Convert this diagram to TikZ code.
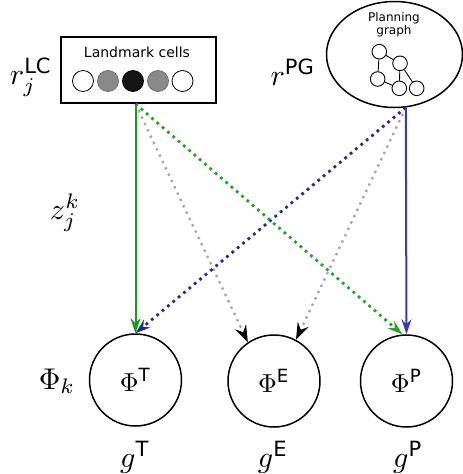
\documentclass[tikz,border=0pt]{standalone}
\usepackage{fontspec}
\usepackage{graphicx}
\setsansfont{DejaVu Sans}
\setmathsf{DejaVu Sans}
\usetikzlibrary{arrows.meta,shapes.geometric}
\definecolor{grn}{HTML}{1E9B1E}
\definecolor{grndot}{HTML}{2DA02D}
\definecolor{blu}{HTML}{3A3AAE}
\definecolor{bludot}{HTML}{2C2C88}
\definecolor{gry}{HTML}{A8A8A8}
\definecolor{cellgray}{HTML}{8A8A8A}
\definecolor{cellblack}{HTML}{151515}
\begin{document}
\begin{tikzpicture}[x=1pt,y=-1pt,
  lab/.style={inner sep=0pt,scale=3},
  cell/.style={circle,draw=black,line width=0.8pt,minimum size=21pt,inner sep=0pt},
  gnode/.style={circle,draw=black,line width=0.9pt,minimum size=14.6pt,inner sep=0pt},
  phi/.style={circle,draw=black,line width=1.5pt,minimum size=92pt,inner sep=0pt},
  tipc/.style={-{Stealth[length=15pt,width=10pt,inset=5pt]}},
  tipk/.style={-{Stealth[length=17pt,width=12pt,inset=6pt,black]}},
  solidarr/.style={line width=2pt,tipc},
  dotarr/.style={line width=2.8pt,dash pattern=on 2.8pt off 4.2pt,tipc},
  grydot/.style={gry,line width=2.4pt,dash pattern=on 2.4pt off 4.6pt,tipk},
]
\useasboundingbox (0,0) rectangle (463,474);

% Landmark cells box
\node[draw=black,line width=1.8pt,minimum width=155pt,minimum height=66pt,inner sep=0pt] (LC) at (138.5,70) {};
\node[font=\sffamily\fontsize{14}{16}\selectfont] (lct) at (137,52) {Landmark cells};
\node[cell,fill=white] (c1) at (83,81) {};
\node[cell,fill=cellgray,draw=cellgray!80!black] (c2) at (108,81) {};
\node[cell,fill=cellblack] (c3) at (133,81) {};
\node[cell,fill=cellgray,draw=cellgray!80!black] (c4) at (158,81) {};
\node[cell,fill=white] (c5) at (182.5,81) {};
\node[lab] (rlc) at (31,77) {$r_j^{\mathsf{LC}}$};

% Planning graph ellipse
\node[ellipse,draw=black,line width=1.5pt,minimum width=136pt,minimum height=106pt,inner sep=0pt] (PG) at (394.5,54.5) {};
\node[font=\sffamily\fontsize{12}{14}\selectfont,align=center,inner sep=0pt] (pgt) at (394,24.5) {Planning\\[-1pt]graph};
\node[gnode] (g1) at (379.3,51.7) {};
\node[gnode] (g2) at (400,63.3) {};
\node[gnode] (g3) at (377.7,79) {};
\node[gnode] (g4) at (399.3,88.3) {};
\node[gnode] (g5) at (416.7,88.3) {};
\draw[line width=0.9pt] (g1) -- (g2) (g1) -- (g3) (g2) -- (g4) (g2) -- (g5) (g3) -- (g4);
\node[lab] (rpg) at (293,72) {$r^{\mathsf{PG}}$};

% bottom circles
\node[phi] (T) at (135.5,380) {\scalebox{2.6}{$\Phi^{\mathsf{T}}$}};
\node[phi] (E) at (274,381) {\scalebox{2.6}{$\Phi^{\mathsf{E}}$}};
\node[phi] (P) at (406.5,381) {\scalebox{2.6}{$\Phi^{\mathsf{P}}$}};
\node[lab] (phik) at (57,381) {$\Phi_k$};
\node[lab] (gT) at (135,457) {$g^{\mathsf{T}}$};
\node[lab] (gE) at (273,457) {$g^{\mathsf{E}}$};
\node[lab] (gP) at (408,457) {$g^{\mathsf{P}}$};
\node[lab] (z) at (65,213) {$z_j^k$};

% start points
\coordinate (a) at (LC.south -| T.north);
\coordinate (b) at (PG.-78);

% connectors
\draw[grydot] (a) -- (E.124);
\draw[grydot] (b) -- (E.62);
\draw[dotarr,bludot] (b) -- (T.north);
\draw[dotarr,grndot] (a) -- (P.95);
\draw[solidarr,grn] (a) -- (T.north);
\draw[solidarr,blu] (b) -- (P.north);
\end{tikzpicture}
\end{document}
